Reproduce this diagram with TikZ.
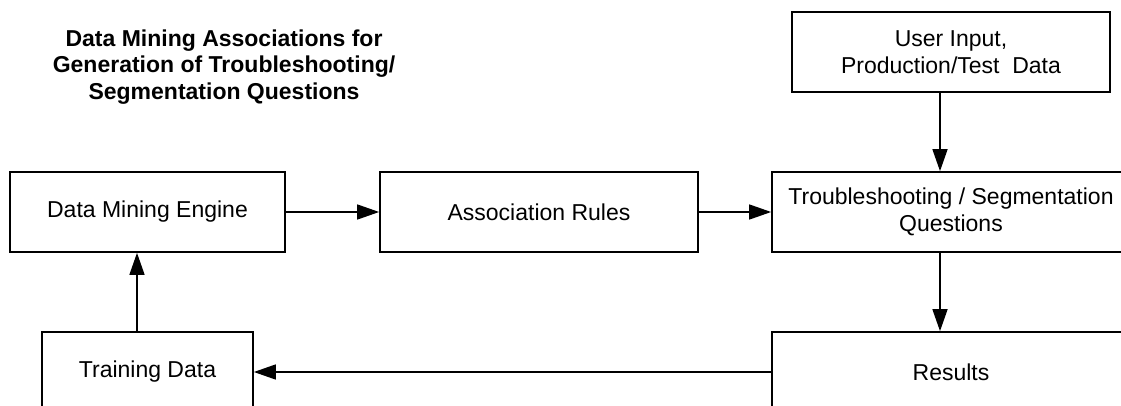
\documentclass[tikz,border=0pt]{standalone}
\usepackage{fontspec}
\setmainfont{Liberation Sans}
\usetikzlibrary{arrows.meta}
\begin{document}
\begin{tikzpicture}[x=1pt,y=-1pt,
  txt/.style={font=\fontsize{23}{26.5}\selectfont,align=center},
  box/.style={txt,draw,line width=1.7pt,minimum height=80pt,inner sep=0pt},
  arr/.style={line width=1.5pt,-{Triangle[length=22pt,width=15pt]}}]
\path[use as bounding box] (0,0) rectangle (1121,406);
\clip (0,0) rectangle (1121,406);
\node[txt,font=\fontsize{23}{26.5}\selectfont\bfseries] (title) at (224,67)
  {Data Mining Associations for\\Generation of Troubleshooting/\\Segmentation Questions};
\node[box,minimum width=275pt] (DME) at (147.5,212) {Data Mining Engine};
\node[box,minimum width=318pt] (AR) at (539,212) {Association Rules};
\node[box,minimum width=318pt] (UI) at (951,52) {User Input,\\Production/Test\ \ Data};
\node[box,minimum width=358pt] (TS) at (951,212) {Troubleshooting / Segmentation\\Questions};
\node[box,minimum width=211pt] (TD) at (147.5,372) {Training Data};
\node[box,minimum width=358pt] (RS) at (951,372) {Results};
\draw[arr] (DME) -- (AR);
\draw[arr] (AR) -- (TS);
\draw[arr] ([xshift=-11pt]UI.south) -- ([xshift=-11pt]TS.north);
\draw[arr] ([xshift=-11pt]TS.south) -- ([xshift=-11pt]RS.north);
\draw[arr] (RS.west) -- (TD.east);
\draw[arr] ([xshift=-10.5pt]TD.north) -- ([xshift=-10.5pt]DME.south);
\end{tikzpicture}
\end{document}
